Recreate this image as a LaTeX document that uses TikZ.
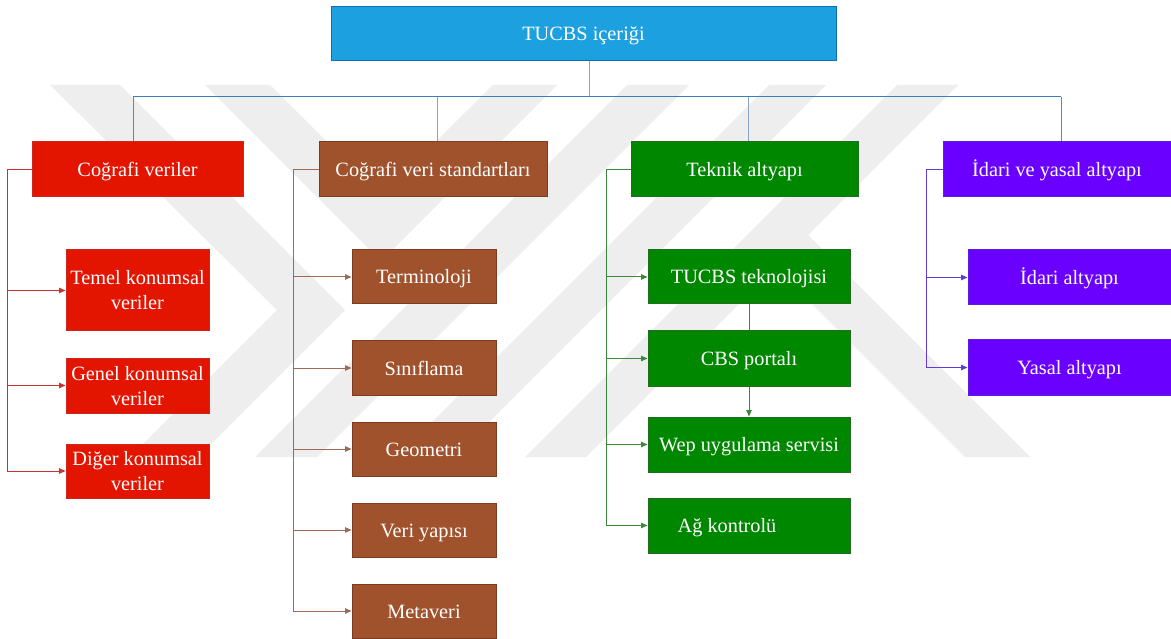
\documentclass[tikz,border=0pt]{standalone}
\usepackage{fontspec}
\setmainfont{Liberation Serif}
\usetikzlibrary{arrows.meta}
\definecolor{wm}{RGB}{238,238,238}
\definecolor{topfill}{RGB}{29,160,224}
\definecolor{topdraw}{RGB}{16,110,180}
\definecolor{busline}{RGB}{60,125,190}
\definecolor{dropline}{RGB}{135,165,200}
\definecolor{greydrop}{RGB}{128,128,128}
\definecolor{redfill}{RGB}{227,20,0}
\definecolor{reddraw}{RGB}{205,40,30}
\definecolor{redln}{RGB}{200,50,50}
\definecolor{brfill}{RGB}{160,82,45}
\definecolor{brdraw}{RGB}{125,60,30}
\definecolor{brln}{RGB}{160,105,85}
\definecolor{grfill}{RGB}{0,135,0}
\definecolor{grdraw}{RGB}{30,110,30}
\definecolor{grln}{RGB}{60,135,60}
\definecolor{pufill}{RGB}{106,0,255}
\definecolor{pudraw}{RGB}{90,30,220}
\definecolor{puln}{RGB}{95,60,210}
\begin{document}
\begin{tikzpicture}[x=1pt,y=-1pt,
  box/.style={draw, line width=1pt, text=white, inner sep=0pt, align=center,
    font=\fontsize{20.3}{25}\selectfont, text height=14pt, text depth=-1.5pt},
  twoline/.style={text height=39pt},
  topbox/.style={box, fill=topfill, draw=topdraw},
  redbox/.style={box, fill=redfill, draw=reddraw},
  brbox/.style={box, fill=brfill, draw=brdraw},
  grbox/.style={box, fill=grfill, draw=grdraw},
  pubox/.style={box, fill=pufill, draw=pudraw},
  tip/.style={-{Triangle[length=6.5pt,width=5.5pt]}},
  bus/.style={draw=busline, line width=1pt},
  drop/.style={draw=dropline, line width=1pt},
  greyline/.style={draw=greydrop, line width=1pt},
  redlink/.style={draw=redln, line width=1pt},
  brlink/.style={draw=brln, line width=1pt},
  grlink/.style={draw=grln, line width=1pt},
  pulink/.style={draw=puln, line width=1pt}]
\useasboundingbox (0,0) rectangle (1171,639);
\fill[white] (0,0) rectangle (1171,639);
% watermark
\begin{scope}
\clip (0,85) rectangle (1171,457);
\fill[wm] (50,85) -- (120,85) -- (345,310) -- (198,457) -- (130,457) -- (277,310) -- cycle;
\fill[wm] (205,85) -- (270,85) -- (381,196) -- (493,85) -- (557,85) -- (381,261) -- cycle;
\fill[wm] (627,85) -- (689,85) -- (317,457) -- (255,457) -- cycle;
\fill[wm] (769,85) -- (826,85) -- (454,457) -- (397,457) -- cycle;
\fill[wm] (897,85) -- (958,85) -- (586,457) -- (525,457) -- cycle;
\fill[wm] (760,252) -- (792.75,219.75) -- (1030,457) -- (965,457) -- cycle;
\end{scope}
% nodes
\node[topbox, minimum width=505pt, minimum height=54pt] (top) at (583.5,34) {TUCBS içeriği};
\node[redbox, minimum width=211pt, minimum height=55pt] (r0) at (137.5,169.5) {Coğrafi veriler};
\node[brbox, minimum width=228pt, minimum height=55pt] (b0) at (433,169.5) {Coğrafi veri standartları};
\node[grbox, minimum width=227pt, minimum height=55pt] (g0) at (744.5,169.5) {Teknik altyapı};
\node[pubox, minimum width=228pt, minimum height=55pt] (p0) at (1057,169.5) {İdari ve yasal altyapı};
\node[redbox, twoline, minimum width=143pt, minimum height=81pt] (r1) at (137.5,290.5) {Temel konumsal\\veriler};
\node[redbox, twoline, minimum width=143pt, minimum height=55pt] (r2) at (137.5,385.5) {Genel konumsal\\veriler};
\node[redbox, twoline, minimum width=143pt, minimum height=54pt] (r3) at (137.5,471) {Diğer konumsal\\veriler};
\node[brbox, minimum width=144pt, minimum height=54pt] (b1) at (424,277) {Terminoloji};
\node[brbox, minimum width=144pt, minimum height=54pt] (b2) at (424,368) {Sınıflama};
\node[brbox, minimum width=144pt, minimum height=54pt] (b3) at (424,449) {Geometri};
\node[brbox, minimum width=144pt, minimum height=54pt] (b4) at (424,530) {Veri yapısı};
\node[brbox, minimum width=144pt, minimum height=54pt] (b5) at (424,611) {Metaveri};
\node[grbox, minimum width=202pt, minimum height=54pt] (g1) at (749,277) {TUCBS teknolojisi};
\node[grbox, minimum width=202pt, minimum height=55pt] (g2) at (749,358.5) {CBS portalı};
\node[grbox, minimum width=202pt, minimum height=55pt] (g3) at (749,444.5) {Wep uygulama servisi};
\node[grbox, minimum width=202pt, minimum height=55pt] (g4) at (749,525.5) {\hspace*{-44pt}Ağ kontrolü};
\node[pubox, minimum width=203pt, minimum height=55pt] (p1) at (1069.5,277.5) {İdari altyapı};
\node[pubox, minimum width=203pt, minimum height=55pt] (p2) at (1069.5,367.5) {Yasal altyapı};
% top connectors
\coordinate (hub) at (589,97);
\coordinate (d1) at (133,97);
\coordinate (d2) at (437,97);
\coordinate (d3) at (748,97);
\coordinate (d4) at (1061,97);
\draw[greyline] (d1) -- (d1 |- r0.north);
\draw[drop] (d2) -- (d2 |- b0.north);
\draw[drop] (d3) -- (d3 |- g0.north);
\draw[greyline] (d4) -- (d4 |- p0.north);
\draw[drop] (top.south -| hub) -- (hub);
\draw[bus] (d1) -- (d4);
% red branch
\coordinate (rv) at (7,0);
\draw[redlink,tip] (r0.west) -- (r0.west -| rv) |- (r3.west);
\draw[redlink,tip] (rv |- r1.west) -- (r1.west);
\draw[redlink,tip] (rv |- r2.west) -- (r2.west);
% brown branch
\coordinate (bv) at (293,0);
\draw[brlink,tip] (b0.west) -- (b0.west -| bv) |- (b5.west);
\draw[brlink,tip] (bv |- b1.west) -- (b1.west);
\draw[brlink,tip] (bv |- b2.west) -- (b2.west);
\draw[brlink,tip] (bv |- b3.west) -- (b3.west);
\draw[brlink,tip] (bv |- b4.west) -- (b4.west);
% green branch
\coordinate (gv) at (606,0);
\draw[grlink,tip] (g0.west) -- (g0.west -| gv) |- (g4.west);
\draw[grlink,tip] (gv |- g1.west) -- (g1.west);
\draw[grlink,tip] (gv |- g2.west) -- (g2.west);
\draw[grlink,tip] (gv |- g3.west) -- (g3.west);
\draw[grlink] (g1.south) -- (g2.north);
\draw[grlink,tip] (g2.south) -- (g3.north);
% purple branch
\coordinate (pv) at (926,0);
\draw[pulink,tip] (p0.west) -- (p0.west -| pv) |- (p2.west);
\draw[pulink,tip] (pv |- p1.west) -- (p1.west);
\end{tikzpicture}
\end{document}
